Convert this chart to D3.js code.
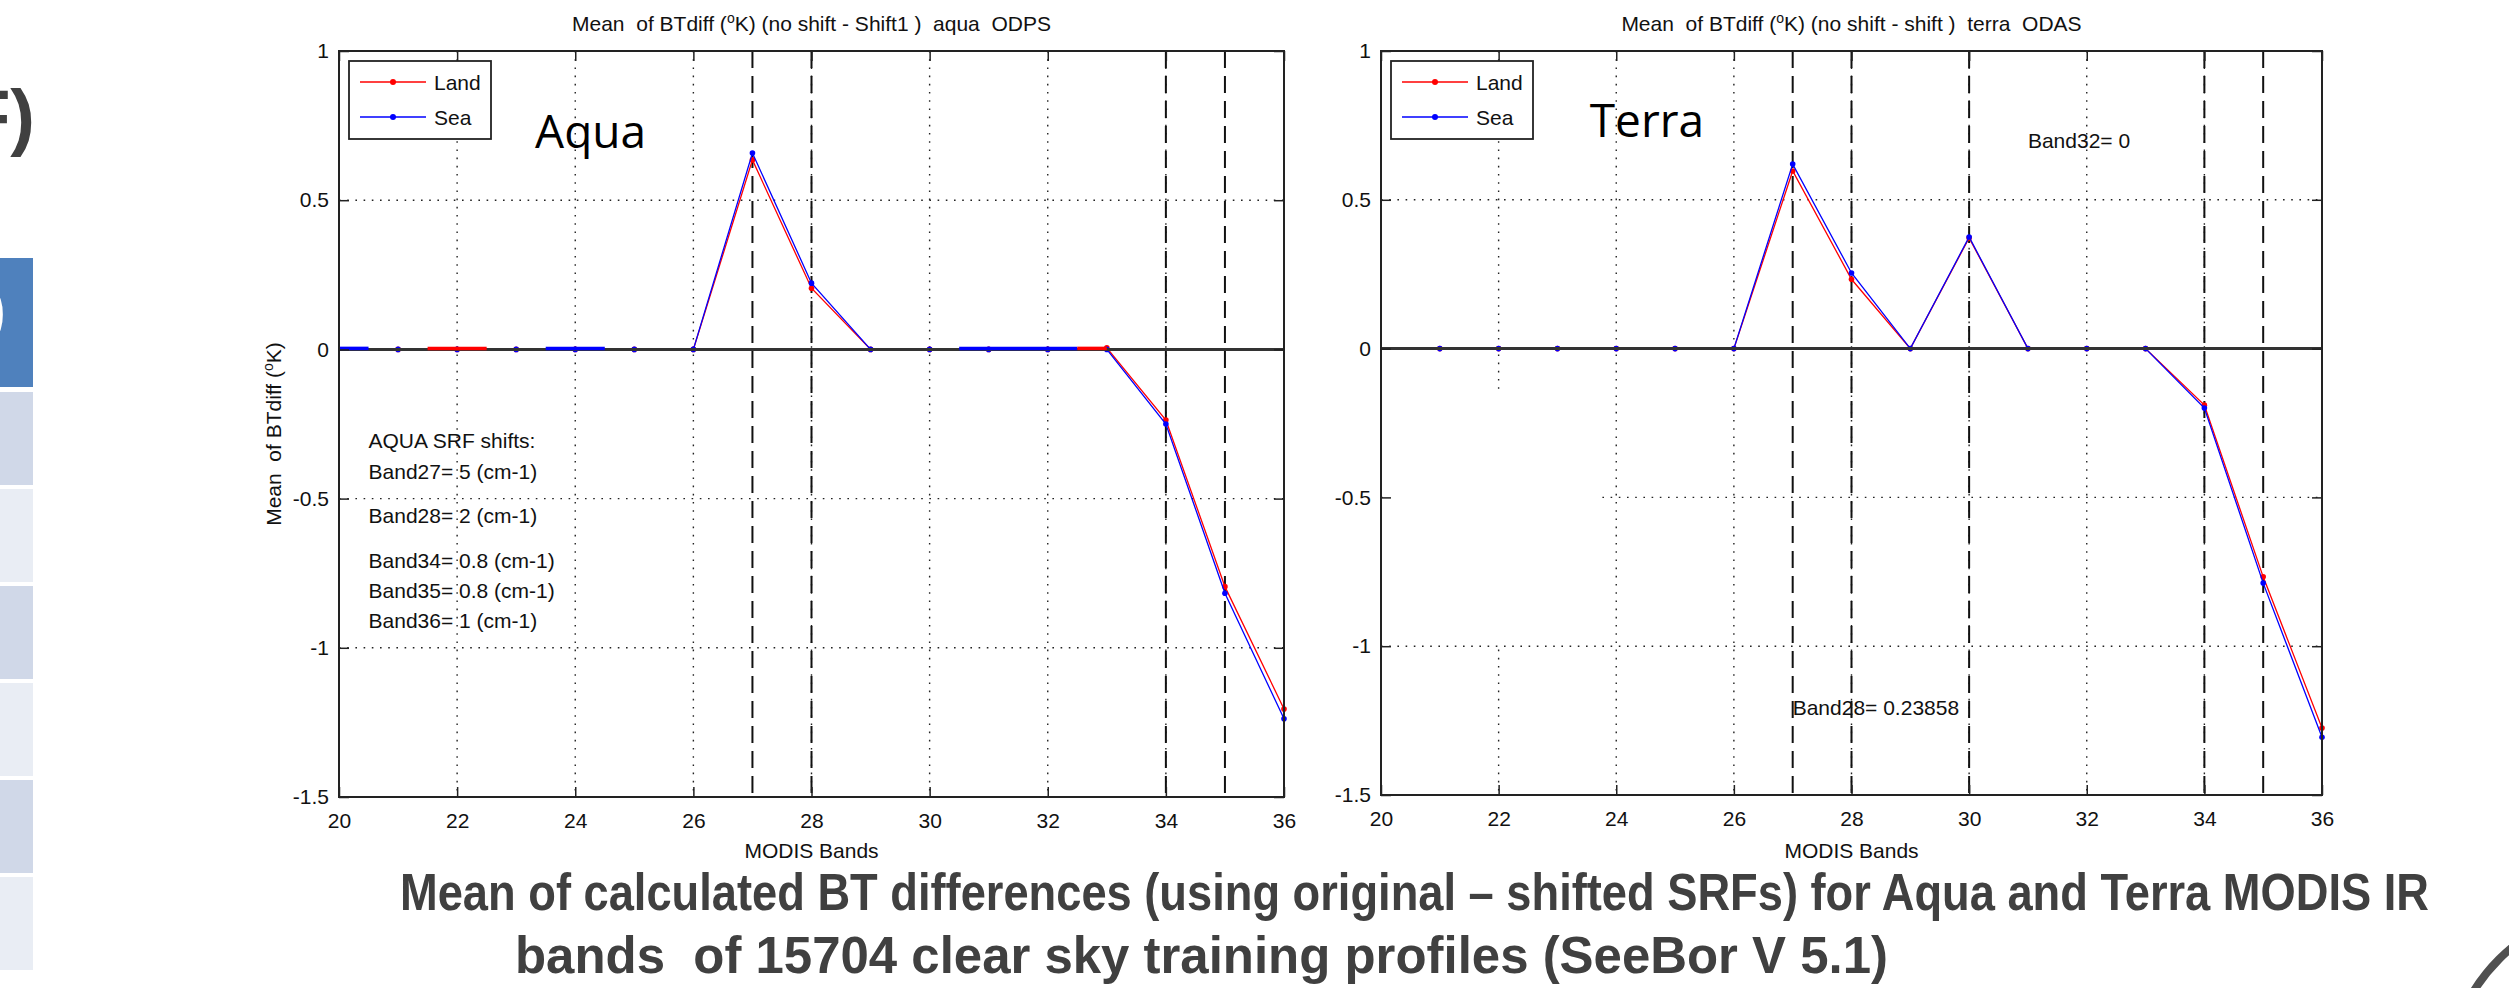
<!doctype html>
<html>
<head>
<meta charset="utf-8"/>
<title>Mean of BTdiff - Aqua / Terra MODIS</title>
<script src="https://d3js.org/d3.v7.min.js"></script>
<style>
body { margin: 0; background: #fff; }
text { font-family: "Liberation Sans", Arial, sans-serif; white-space: pre; }
</style>
</head>
<body>
<script>
// ---- data ----
var bands = [21, 22, 23, 24, 25, 26, 27, 28, 29, 30, 31, 32, 33, 34, 35, 36];

var aquaLand  = [0, 0, 0, 0, 0, 0, 0.635, 0.205, 0, 0, 0, 0, 0.005, -0.237, -0.795, -1.205];
var aquaSea   = [0, 0, 0, 0, 0, 0, 0.658, 0.222, 0, 0, 0, 0, 0,     -0.250, -0.817, -1.238];
var terraLand = [0, 0, 0, 0, 0, 0, 0.597, 0.233, 0, 0.372, 0, 0, 0, -0.190, -0.767, -1.275];
var terraSea  = [0, 0, 0, 0, 0, 0, 0.620, 0.254, 0, 0.375, 0, 0, 0, -0.200, -0.788, -1.306];

// short pieces of the series that show over the zero line (aqua panel)
var aquaZeroSegs = [[20, 20.5, "Sea"], [21.5, 22.5, "Land"], [23.5, 24.5, "Sea"], [30.5, 32.5, "Sea"], [32.5, 33, "Land"]];

var aquaShifted  = [27, 28, 34, 35];
var terraShifted = [27, 28, 30, 34, 35];

var xTicks = [20, 22, 24, 26, 28, 30, 32, 34, 36];
var yTicks = [-1.5, -1, -0.5, 0, 0.5, 1];

var seriesNames = ["Land", "Sea"];
var seriesColors = {Land: "#ff0000", Sea: "#0000ff"};

var aquaNotes = ["AQUA SRF shifts:", "Band27= 5 (cm-1)", "Band28= 2 (cm-1)", "Band34= 0.8 (cm-1)", "Band35= 0.8 (cm-1)", "Band36= 1 (cm-1)"];
var aquaNoteY = [-0.305, -0.41, -0.558, -0.709, -0.808, -0.91];
var terraNotes = ["Band32= 0", "Band28= 0.23858"];
var terraNoteX = [31, 27];
var terraNoteY = [0.70, -1.208];

var captionLines = ["Mean of calculated BT differences (using original \u2013 shifted SRFs) for Aqua and Terra MODIS IR",
                    "bands  of 15704 clear sky training profiles (SeeBor V 5.1)"];

var tableColors = ["#4f81bd", "#d0d8e8", "#e9edf4", "#d0d8e8", "#e9edf4", "#d0d8e8", "#e9edf4"];

var svg = d3.select("body").append("svg")
    .attr("width", 2509)
    .attr("height", 988);

svg.append("rect").attr("width", 2509).attr("height", 988).attr("fill", "#fff");

// ---- what is left of the slide around the figure ----
svg.selectAll("rect.tbl")
    .data(tableColors)
    .enter()
  .append("rect")
    .attr("class", "tbl")
    .attr("x", 0)
    .attr("width", 33)
    .attr("y", function(d, i) { return i == 0 ? 258 : 392 + (i - 1) * 97; })
    .attr("height", function(d, i) { return i == 0 ? 129 : 93; })
    .attr("fill", function(d) { return d; });

svg.append("text")
    .attr("x", 6).attr("y", 330)
    .attr("text-anchor", "end")
    .style("font-size", "62px").style("font-weight", "bold")
    .attr("fill", "#fff")
    .text(")");

svg.append("text")
    .attr("x", 35).attr("y", 142)
    .attr("text-anchor", "end")
    .style("font-size", "74px").style("font-weight", "bold")
    .attr("fill", "#404040")
    .text("SRF)");

svg.append("circle")
    .attr("cx", 2625).attr("cy", 1085).attr("r", 178)
    .attr("fill", "none").attr("stroke", "#505050").attr("stroke-width", 8);

// ---- the two matlab panels ----
function supK(sel, before, after) {
  sel.append("tspan").text(before);
  sel.append("tspan").attr("dy", -8).style("font-size", "14px").text("o");
  sel.append("tspan").attr("dy", 8).text(after);
}

function drawPanel(p) {
  var x = d3.scaleLinear().domain([20, 36]).range([p.left, p.right]);
  var y = d3.scaleLinear().domain([-1.5, 1]).range([p.bottom, p.top]);
  var g = svg.append("g");

  // dotted grid
  g.selectAll("line.vg").data(xTicks.slice(1, -1)).enter().append("line")
      .attr("x1", function(d) { return x(d); }).attr("x2", function(d) { return x(d); })
      .attr("y1", p.top).attr("y2", p.bottom)
      .attr("stroke", "#222").attr("stroke-width", 1.4).attr("stroke-dasharray", "1.6,6.6");
  g.selectAll("line.hg").data(yTicks.slice(1, -1)).enter().append("line")
      .attr("y1", function(d) { return y(d); }).attr("y2", function(d) { return y(d); })
      .attr("x1", p.left).attr("x2", p.right)
      .attr("stroke", "#222").attr("stroke-width", 1.4).attr("stroke-dasharray", "1.6,6.6");

  if (p.cover) {
    g.append("rect")
        .attr("x", p.left + 2).attr("y", y(p.cover[1]))
        .attr("width", x(p.cover[0]) - p.left - 2).attr("height", y(p.cover[2]) - y(p.cover[1]))
        .attr("fill", "#fff");
  }

  // dashed lines on the shifted bands
  g.selectAll("line.sh").data(p.shifted).enter().append("line")
      .attr("x1", function(d) { return x(d); }).attr("x2", function(d) { return x(d); })
      .attr("y1", p.top).attr("y2", p.bottom)
      .attr("stroke", "#111").attr("stroke-width", 2).attr("stroke-dasharray", "17,8");

  var line = d3.line()
      .x(function(d, i) { return x(bands[i]); })
      .y(function(d) { return y(d); });

  seriesNames.forEach(function(name) {
    var vals = p.series[name];
    g.append("path").datum(vals)
        .attr("d", line)
        .attr("fill", "none")
        .attr("stroke", seriesColors[name])
        .attr("stroke-width", 1.3);
    g.selectAll("circle." + name).data(vals).enter().append("circle")
        .attr("cx", function(d, i) { return x(bands[i]); })
        .attr("cy", function(d) { return y(d); })
        .attr("r", 2.8)
        .attr("fill", seriesColors[name]);
  });

  // zero line
  g.append("line")
      .attr("x1", p.left).attr("x2", p.right)
      .attr("y1", y(0)).attr("y2", y(0))
      .attr("stroke", "#333").attr("stroke-width", 3);

  g.selectAll("line.seg").data(p.segs || []).enter().append("line")
      .attr("x1", function(d) { return x(d[0]); }).attr("x2", function(d) { return x(d[1]); })
      .attr("y1", y(0) - 1).attr("y2", y(0) - 1)
      .attr("stroke", function(d) { return seriesColors[d[2]]; })
      .attr("stroke-width", 3.5);

  // axes, ticks inside like matlab
  var fmt = function(d) { return String(d); };
  var bottomAxis = g.append("g").attr("transform", "translate(0," + p.bottom + ")")
      .call(d3.axisBottom(x).tickValues(xTicks).tickSize(-10).tickSizeOuter(0).tickPadding(16).tickFormat(fmt));
  var leftAxis = g.append("g").attr("transform", "translate(" + p.left + ",0)")
      .call(d3.axisLeft(y).tickValues(yTicks).tickSize(-10).tickSizeOuter(0).tickPadding(10).tickFormat(fmt));
  var topAxis = g.append("g").attr("transform", "translate(0," + p.top + ")")
      .call(d3.axisTop(x).tickValues(xTicks).tickSize(-10).tickSizeOuter(0).tickFormat(""));
  var rightAxis = g.append("g").attr("transform", "translate(" + p.right + ",0)")
      .call(d3.axisRight(y).tickValues(yTicks).tickSize(-10).tickSizeOuter(0).tickFormat(""));
  [bottomAxis, leftAxis, topAxis, rightAxis].forEach(function(a) {
    a.select(".domain").remove();
    a.selectAll(".tick line").attr("stroke", "#222").attr("stroke-width", 1.5);
    a.selectAll(".tick text").attr("fill", "#111")
        .style("font-size", "21px").style("font-family", "'Liberation Sans', Arial, sans-serif");
  });

  g.append("rect")
      .attr("x", p.left).attr("y", p.top)
      .attr("width", p.right - p.left).attr("height", p.bottom - p.top)
      .attr("fill", "none").attr("stroke", "#222").attr("stroke-width", 2);

  // title and labels
  var cx = (p.left + p.right) / 2;
  var t = g.append("text").attr("x", cx).attr("y", 31).attr("text-anchor", "middle")
      .style("font-size", "21px").attr("fill", "#111");
  supK(t, "Mean  of BTdiff (", "K) " + p.titleTail);

  g.append("text").attr("x", cx).attr("y", 858).attr("text-anchor", "middle")
      .style("font-size", "21px").attr("fill", "#111").text("MODIS Bands");

  if (p.ylabel) {
    var yl = g.append("text")
        .attr("transform", "translate(" + (p.left - 58) + "," + ((p.top + p.bottom) / 2 + 10) + ") rotate(-90)")
        .attr("text-anchor", "middle")
        .style("font-size", "21px").attr("fill", "#111");
    supK(yl, "Mean  of BTdiff (", "K)");
  }

  // notes
  g.selectAll("text.note").data(p.notes).enter().append("text")
      .attr("x", function(d, i) { return x(p.noteX[i]); })
      .attr("y", function(d, i) { return y(p.noteY[i]); })
      .attr("dy", "0.35em")
      .style("font-size", "21px").attr("fill", "#111")
      .text(function(d) { return d; });

  // legend
  var lg = g.append("g").attr("transform", "translate(" + (p.left + 10) + "," + (p.top + 10) + ")");
  lg.append("rect").attr("width", 142).attr("height", 78)
      .attr("fill", "#fff").attr("stroke", "#222").attr("stroke-width", 1.8);
  seriesNames.forEach(function(name, i) {
    var ly = 21 + i * 35;
    lg.append("line").attr("x1", 11).attr("x2", 77).attr("y1", ly).attr("y2", ly)
        .attr("stroke", seriesColors[name]).attr("stroke-width", 1.5);
    lg.append("circle").attr("cx", 44).attr("cy", ly).attr("r", 3).attr("fill", seriesColors[name]);
    lg.append("text").attr("x", 85).attr("y", ly).attr("dy", "0.36em")
        .style("font-size", "21px").attr("fill", "#111").text(name);
  });

  // big overlay name from the slide
  g.append("text")
      .attr("x", x(p.bigX)).attr("y", y(p.bigY))
      .style("font-family", "'Open Sans', 'Noto Sans', sans-serif")
      .style("font-size", "46px").attr("fill", "#000")
      .text(p.big);
}

drawPanel({
  left: 339, right: 1284, top: 51, bottom: 797,
  series: {Land: aquaLand, Sea: aquaSea},
  segs: aquaZeroSegs,
  shifted: aquaShifted,
  titleTail: "(no shift - Shift1 )  aqua  ODPS",
  ylabel: true,
  notes: aquaNotes, noteX: aquaNotes.map(function() { return 20.5; }), noteY: aquaNoteY,
  big: "Aqua", bigX: 23.32, bigY: 0.675
});

drawPanel({
  left: 1381, right: 2322, top: 51, bottom: 795,
  series: {Land: terraLand, Sea: terraSea},
  shifted: terraShifted,
  titleTail: "(no shift - shift )  terra  ODAS",
  ylabel: false,
  cover: [23.7, -0.14, -0.99],
  notes: terraNotes, noteX: terraNoteX, noteY: terraNoteY,
  big: "Terra", bigX: 23.55, bigY: 0.71
});

// ---- caption (a condensed bold face on the slide) ----
svg.append("text").attr("x", 400).attr("y", 910)
    .attr("textLength", 2029).attr("lengthAdjust", "spacingAndGlyphs")
    .style("font-size", "52px").style("font-weight", "bold").attr("fill", "#404040")
    .text(captionLines[0]);
svg.append("text").attr("x", 515).attr("y", 973)
    .attr("textLength", 1373).attr("lengthAdjust", "spacingAndGlyphs")
    .style("font-size", "52px").style("font-weight", "bold").attr("fill", "#404040")
    .text(captionLines[1]);
</script>
</body>
</html>
